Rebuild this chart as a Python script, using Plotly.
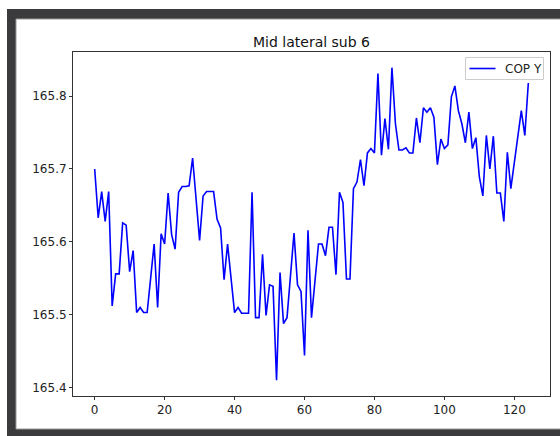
import plotly.graph_objects as go

title_text = "Mid lateral sub 6"
series_name = "COP Y"
cop_y = [
    165.700, 165.633, 165.669, 165.628, 165.669, 165.512, 165.556, 165.556, 165.626, 165.623,
    165.559, 165.588, 165.503, 165.510, 165.503, 165.503, 165.550, 165.597, 165.510, 165.611,
    165.597, 165.667, 165.610, 165.590, 165.668, 165.676, 165.676, 165.677, 165.715, 165.660,
    165.602, 165.663, 165.669, 165.669, 165.669, 165.631, 165.619, 165.548, 165.597, 165.550,
    165.503, 165.510, 165.502, 165.502, 165.502, 165.668, 165.496, 165.496, 165.583, 165.499,
    165.541, 165.539, 165.410, 165.558, 165.488, 165.496, 165.555, 165.612, 165.541, 165.532,
    165.444, 165.616, 165.496, 165.545, 165.597, 165.597, 165.581, 165.620, 165.620, 165.555,
    165.668, 165.654, 165.549, 165.549, 165.673, 165.682, 165.713, 165.677, 165.722, 165.728,
    165.722, 165.831, 165.719, 165.769, 165.727, 165.839, 165.762, 165.726, 165.726, 165.729,
    165.722, 165.722, 165.770, 165.736, 165.784, 165.778, 165.784, 165.771, 165.706, 165.741,
    165.728, 165.733, 165.799, 165.814, 165.780, 165.762, 165.736, 165.778, 165.728, 165.743,
    165.689, 165.663, 165.746, 165.700, 165.745, 165.667, 165.667, 165.628, 165.723, 165.673,
    165.709, 165.746, 165.780, 165.746, 165.818,
]
x_idx = list(range(len(cop_y)))
x_ticks = [0, 20, 40, 60, 80, 100, 120]
y_ticks = [165.4, 165.5, 165.6, 165.7, 165.8]

W, H = 560, 436
L, R, T, B = 73, 10, 52, 40
pw, ph = W - L - R, H - T - B
LINE_COLOR = "#0000ff"

def px(x):
    return (x - L) / pw

def py(y):
    return (H - B - y) / ph

fig = go.Figure()
fig.add_trace(go.Scatter(x=x_idx, y=cop_y, mode="lines", name=series_name,
                         line=dict(color=LINE_COLOR, width=1.6), showlegend=False))

shapes = [
    dict(type="rect", xref="paper", yref="paper", x0=px(16), x1=px(562), y0=py(429), y1=py(19),
         fillcolor="white", line=dict(color="#9a9a9a", width=1), layer="below"),
    dict(type="rect", xref="paper", yref="paper", x0=px(-2), x1=px(562), y0=py(9), y1=py(-2),
         fillcolor="white", line=dict(width=0), layer="below"),
    dict(type="rect", xref="paper", yref="paper", x0=px(-2), x1=px(7), y0=py(438), y1=py(-2),
         fillcolor="white", line=dict(width=0), layer="below"),
    # legend box
    dict(type="rect", xref="paper", yref="paper", x0=px(465.5), x1=px(543.5), y0=py(79.5), y1=py(57.5),
         fillcolor="rgba(255,255,255,0.8)", line=dict(color="#cccccc", width=1), layer="above"),
    dict(type="line", xref="paper", yref="paper", x0=px(469.5), x1=px(495.5), y0=py(68.5), y1=py(68.5),
         line=dict(color=LINE_COLOR, width=1.6), layer="above"),
]

annotations = [
    dict(text=series_name, xref="paper", yref="paper", x=px(502.5), y=py(68.5),
         xanchor="left", yanchor="middle", showarrow=False,
         font=dict(size=12, color="#222222")),
]

fig.update_layout(
    width=W, height=H,
    margin=dict(l=L, r=R, t=T, b=B, pad=0),
    paper_bgcolor="#3b3b3d",
    plot_bgcolor="white",
    shapes=shapes,
    annotations=annotations,
    font=dict(family="DejaVu Sans", color="#222222", size=12),
    title=dict(text=title_text, x=311.5 / W, xanchor="center", y=1 - 42.5 / H, yanchor="middle",
               yref="container", xref="container", font=dict(size=14, color="#111111")),
    showlegend=False,
)
fig.update_xaxes(range=[-6.2, 130.2], tickvals=x_ticks, ticks="outside", ticklen=3,
                 tickcolor="#333", showgrid=False, zeroline=False, showline=True,
                 linecolor="#333", linewidth=1, mirror=True,
                 tickfont=dict(size=12, color="#222"))
fig.update_yaxes(range=[165.3885, 165.8605], tickvals=y_ticks, ticktext=[f"{v:.1f}" for v in y_ticks],
                 ticks="outside", ticklen=3, tickcolor="#333", showgrid=False, zeroline=False,
                 showline=True, linecolor="#333", linewidth=1, mirror=True,
                 tickfont=dict(size=12, color="#222"))

fig.write_html("out.html")
